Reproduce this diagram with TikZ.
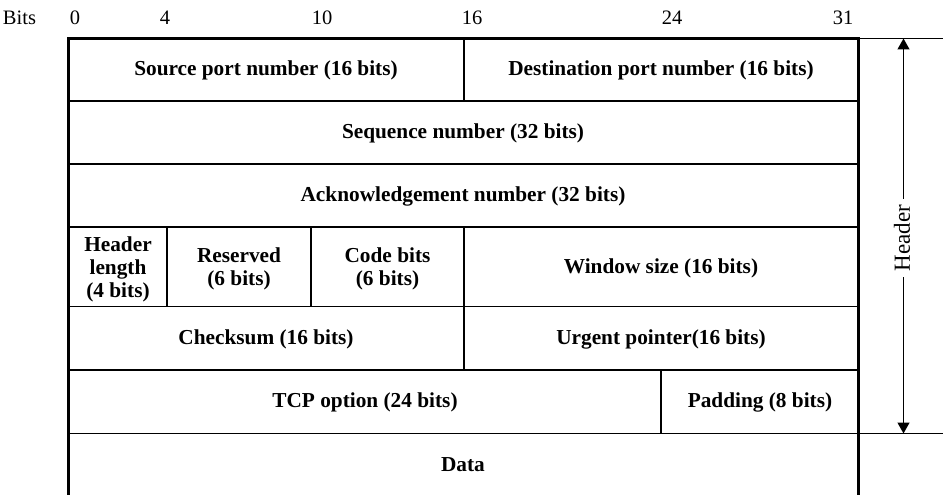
\documentclass[tikz,border=0pt]{standalone}
\usepackage{fontspec}
\setmainfont{Liberation Serif}
\usetikzlibrary{arrows.meta}
\begin{document}
\begin{tikzpicture}[x=1pt,y=-1pt,
  lbl/.style={font=\fontsize{21.3}{23}\selectfont\bfseries, align=center, inner sep=0pt},
  bitlbl/.style={font=\fontsize{20.5}{23}\selectfont, inner sep=0pt},
  gridline/.style={line width=1.4pt},
  frame/.style={line width=2.6pt},
  hdrarrow/.style={line width=1.3pt, {Triangle[length=11pt,width=12pt]}-{Triangle[length=11pt,width=12pt]}}]
\useasboundingbox (0,0) rectangle (943,495);
% bit scale
\node[bitlbl] (bits) at (19.5,18) {Bits};
\node[bitlbl] (b0) at (75,18) {0};
\node[bitlbl] (b4) at (165,18) {4};
\node[bitlbl] (b10) at (322,18) {10};
\node[bitlbl] (b16) at (472,18) {16};
\node[bitlbl] (b24) at (672,18) {24};
\node[bitlbl] (b31) at (843,18) {31};
% grid lines
\draw[gridline] (68.5,101) -- (858.5,101);
\draw[gridline] (68.5,164) -- (858.5,164);
\draw[gridline] (68.5,227) -- (858.5,227);
\draw[gridline] (68.5,306.5) -- (858.5,306.5);
\draw[gridline] (68.5,370) -- (858.5,370);
\draw[gridline] (68.5,433.5) -- (943,433.5);
\draw[gridline] (858.5,38.5) -- (943,38.5);
\draw[gridline] (464,38.5) -- (464,101);
\draw[gridline] (167,227) -- (167,306.5);
\draw[gridline] (311,227) -- (311,306.5);
\draw[gridline] (464,227) -- (464,370);
\draw[gridline] (661,370) -- (661,433.5);
% frame
\draw[frame] (68.5,496) -- (68.5,38.5) -- (858.5,38.5) -- (858.5,496);
% labels
\node[lbl] (src) at (266,70.5) {Source port number (16 bits)};
\node[lbl] (dst) at (661,70.5) {Destination port number (16 bits)};
\node[lbl] (seq) at (463,133.5) {Sequence number (32 bits)};
\node[lbl] (ack) at (463,196.5) {Acknowledgement number (32 bits)};
\node[lbl] (hlen) at (118,269) {Header\\length\\(4 bits)};
\node[lbl] (res) at (239,269) {Reserved\\(6 bits)};
\node[lbl] (code) at (387.5,269) {Code bits\\(6 bits)};
\node[lbl] (win) at (661,268) {Window size (16 bits)};
\node[lbl] (chk) at (266,339) {Checksum (16 bits)};
\node[lbl] (urg) at (661,339) {Urgent pointer(16 bits)};
\node[lbl] (opt) at (365,402.5) {TCP option (24 bits)};
\node[lbl] (pad) at (760,402.5) {Padding (8 bits)};
\node[lbl] (data) at (463,465) {Data};
% header arrow
\coordinate (htop) at (903.5,38.5);
\coordinate (hbot) at (903.5,433.5);
\draw[hdrarrow] (hbot) -- (htop);
\node[font=\fontsize{23}{25}\selectfont, rotate=90, fill=white, inner xsep=6pt, inner ysep=2pt] (hdr) at (902,238) {Header};
\end{tikzpicture}
\end{document}
